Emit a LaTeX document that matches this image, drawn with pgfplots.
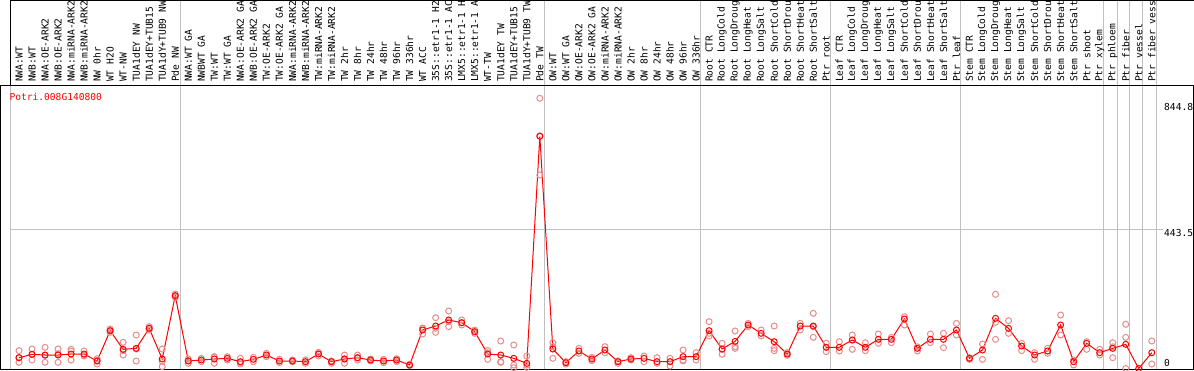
\documentclass[border=0pt]{standalone}
\usepackage{fontspec}
\setmainfont{DejaVu Sans Mono}
\usepackage{pgfplots}
\pgfplotsset{compat=1.18}
\definecolor{reppink}{RGB}{232,140,140}
\definecolor{sepgray}{RGB}{192,192,192}
\begin{document}
\fontsize{9.6pt}{11pt}\selectfont
\begin{tikzpicture}
\useasboundingbox (0pt,0pt) rectangle (1194pt,370pt);
\clip (0pt,0pt) rectangle (1194pt,370pt);
\fill[white] (0pt,0pt) rectangle (1194pt,370pt);
% group separators
\foreach \px in {10,180,544,700,830,960,1103,1117,1129,1142,1156}
  \draw[sepgray, line width=1pt] (\px pt,1pt) -- (\px pt,370pt);
% header frame
\draw[black, line width=1pt] (10pt,285pt) -- (10pt,369.5pt) -- (1193.5pt,369.5pt);
\begin{axis}[
  at={(1pt,1pt)}, anchor=south west,
  scale only axis, width=1192pt, height=284pt,
  xmin=-1.3825, xmax=90.169, ymin=-1.59, ymax=901.5,
  axis line style={line width=1pt},
  xtick={0,...,87},
  xticklabels={NWA:WT,NWB:WT,NWA:OE-ARK2,NWB:OE-ARK2,NWA:miRNA-ARK2,NWB:miRNA-ARK2,NW 0hr,WT H2O,WT-NW,TUA1dEY NW,TUA1dEY+TUB15,TUA1dY+TUB9 NW,Pde NW,
  NWA:WT GA,NWBWT GA,TW:WT,TW:WT GA,NWA:OE-ARK2 GA,NWB:OE-ARK2 GA,TW:OE-ARK2,TW:OE-ARK2 GA,NWA:miRNA-ARK2,NWB:miRNA-ARK2,TW:miRNA-ARK2,TW:miRNA-ARK2,TW 2hr,TW 8hr,TW 24hr,TW 48hr,TW 96hr,TW 336hr,WT ACC,35S::etr1-1 H2,35S::etr1-1 AC,LMX5::etr1-1 H,LMX5::etr1-1 A,WT-TW,TUA1dEY TW,TUA1dEY+TUB15,TUA1dY+TUB9 TW,Pde TW,
  OW:WT,OW:WT GA,OW:OE-ARK2,OW:OE-ARK2 GA,OW:miRNA-ARK2,OW:miRNA-ARK2,OW 2hr,OW 8hr,OW 24hr,OW 48hr,OW 96hr,OW 336hr,
  Root CTR,Root LongCold,Root LongDroug,Root LongHeat,Root LongSalt,Root ShortCold,Root ShortDrou,Root ShortHeat,Root ShortSalt,Ptr root,
  Leaf CTR,Leaf LongCold,Leaf LongDroug,Leaf LongHeat,Leaf LongSalt,Leaf ShortCold,Leaf ShortDrou,Leaf ShortHeat,Leaf ShortSalt,Ptr leaf,
  Stem CTR,Stem LongCold,Stem LongDroug,Stem LongHeat,Stem LongSalt,Stem ShortCold,Stem ShortDrou,Stem ShortHeat,Stem ShortSalt,Ptr shoot,Ptr xylem,
  Ptr phloem,Ptr fiber,Ptr vessel,Ptr fiber vess},
  xticklabel pos=upper,
  major tick length=0pt,
  xticklabel style={rotate=90, anchor=west, inner sep=0pt, font=\fontsize{9.6pt}{11pt}\selectfont},
  xticklabel shift=3pt,
  ytick=\empty,
  clip=false,
]
\draw[sepgray, line width=1pt] (axis cs:-0.69,443.5) -- (axis cs:87.87,443.5);
% replicates
\addplot[only marks, mark=o, mark size=3pt, reppink, mark options={line width=1pt}] table[row sep=\\] {
x y\\
0 56.7\\ 0 19.6\\ 0 34\\
1 62\\ 1 27\\ 1 45\\
2 67.3\\ 2 19.6\\ 2 42\\
3 62\\ 3 19.6\\ 3 47\\
4 61\\ 4 55\\ 4 27\\
5 55.6\\ 5 39.7\\ 5 43\\
6 31.2\\ 6 14.3\\ 6 26\\
7 125.6\\ 7 115\\ 7 120\\
8 83.2\\ 8 42.9\\ 8 57\\
9 106.5\\ 9 23.8\\ 9 62\\
10 133\\ 10 122.4\\ 10 128\\
11 62\\ 11 23\\ 11 6\\
12 236.9\\ 12 226.3\\ 12 231\\
13 30.2\\ 13 16.4\\ 13 25\\
14 32.3\\ 14 21.7\\
15 37.6\\ 15 16.4\\ 15 36\\
16 37.6\\ 16 27\\
17 32.3\\ 17 14.3\\ 17 19\\
18 35.5\\ 18 21.7\\
19 48.2\\ 19 37.6\\
20 29.1\\ 20 18.5\\
21 27\\ 21 21.7\\
22 27\\ 22 16.4\\
23 51.4\\ 23 39.7\\ 23 47\\
24 24\\ 24 16.4\\
25 42.9\\ 25 16.4\\ 25 31\\
26 42.9\\ 26 27\\ 26 33\\
27 30.2\\ 27 23.8\\
28 29.1\\ 28 18.5\\
29 31.2\\ 29 21.7\\
30 13.2\\ 30 9\\
31 127.7\\ 31 109.7\\ 31 129\\
32 161.6\\ 32 115\\ 32 128\\
33 182.8\\ 33 133\\ 33 148.9\\
34 154.2\\ 34 138.3\\ 34 145\\
35 122.4\\ 35 111.8\\ 35 117\\
36 50.3\\ 36 29.1\\ 36 57\\
37 87.4\\ 37 21.7\\ 37 19.6\\
38 74.7\\ 38 11.1\\ 38 2.6\\
39 39.7\\ 39 11.1\\ 39 3.7\\
40 859.2\\ 40 740\\ 40 615.3\\
41 82.1\\ 41 32.3\\ 41 69.4\\
42 21.7\\ 42 14.3\\
43 64.1\\ 43 48.2\\
44 35.5\\ 44 24.9\\
45 69.4\\ 45 50.3\\
46 24\\ 46 16.4\\
47 34.4\\ 47 27\\
48 39.7\\ 48 21.7\\
49 34.4\\ 49 16.4\\
50 32.3\\ 50 7.9\\
51 58.8\\ 51 27\\ 51 24\\
52 50.3\\ 52 27\\
53 148.9\\ 53 103.4\\ 53 112\\
54 80\\ 54 45\\ 54 61\\
55 119.2\\ 55 69.4\\ 55 64\\
56 143.6\\ 56 133\\
57 122.4\\ 57 103.4\\
58 135.1\\ 58 64.1\\ 58 56.7\\
59 50.3\\ 59 41.8\\
60 143.6\\ 60 122.4\\
61 175.4\\ 61 99.1\\ 61 133\\
62 80\\ 62 53.5\\
63 85.3\\ 63 55.6\\
64 106.5\\ 64 60.9\\ 64 90\\
65 82.1\\ 65 56.7\\
66 109.7\\ 66 80\\
67 82.1\\ 67 99\\
68 164.8\\ 68 138.3\\
69 55.6\\ 69 69\\
70 109.7\\ 70 82.1\\
71 111.8\\ 71 66.2\\
72 143.6\\ 72 106.5\\
73 34.4\\ 73 29.1\\
74 77.9\\ 74 29.1\\
75 235.8\\ 75 146.8\\ 75 92.7\\
76 152.1\\ 76 111.8\\
77 80\\ 77 56.7\\
78 50.3\\ 78 29.1\\
79 64.1\\ 79 48.2\\
80 170.1\\ 80 106.5\\
81 27\\ 81 11.1\\
82 85.3\\ 82 60.9\\
83 61\\ 83 42.9\\
84 82.1\\ 84 34.4\\ 84 69\\
85 140.4\\ 85 99.1\\ 85 0\\
87 87.4\\ 87 14.3\\
};
% means
\addplot[red, line width=1pt, mark=o, mark size=3pt, mark options={line width=1pt, solid}] table[row sep=\\] {
x y\\
0 34.4\\ 1 45\\ 2 42.9\\ 3 42.9\\ 4 46\\ 5 46\\ 6 23.8\\ 7 120.3\\ 8 60.9\\ 9 64.1\\
10 127.7\\ 11 30.2\\ 12 231.6\\ 13 23.8\\ 14 27\\ 15 30.2\\ 16 32.3\\ 17 21.7\\ 18 29.1\\ 19 42.9\\
20 23.8\\ 21 23.8\\ 22 21.7\\ 23 46\\ 24 21.7\\ 25 30.2\\ 26 34.4\\ 27 27\\ 28 23.8\\ 29 27\\
30 11.1\\ 31 122.4\\ 32 135.1\\ 33 154.2\\ 34 145.7\\ 35 117.1\\ 36 46\\ 37 42.9\\ 38 32.3\\ 39 16.4\\
40 738.4\\ 41 62\\ 42 18.5\\ 43 55.6\\ 44 30.2\\ 45 58.8\\ 46 21.7\\ 47 30.2\\ 48 32.3\\ 49 21.7\\
50 21.7\\ 51 37.6\\ 52 37.6\\ 53 120.3\\ 54 62\\ 55 86.4\\ 56 138.3\\ 57 111.8\\ 58 85.3\\ 59 46\\
60 135.1\\ 61 135.1\\ 62 67.3\\ 63 67.3\\ 64 90.6\\ 65 67.3\\ 66 92.7\\ 67 92.7\\ 68 157.4\\ 69 64.1\\
70 92.7\\ 71 92.7\\ 72 122.4\\ 73 32.3\\ 74 58.8\\ 75 159.5\\ 76 127.7\\ 77 71.5\\ 78 42.9\\ 79 55.6\\
80 138.3\\ 81 21.7\\ 82 80\\ 83 50.3\\ 84 64.1\\ 85 76.8\\ 86 0\\ 87 50.3\\
};
\end{axis}
\node[anchor=base west, inner sep=0pt, text=red] at (9.3pt,269.3pt) {Potri.008G140800};
\node[anchor=base west, inner sep=0pt] at (1164pt,259pt) {844.8};
\node[anchor=base west, inner sep=0pt] at (1164pt,134pt) {443.5};
\node[anchor=base west, inner sep=0pt] at (1164pt,4pt) {0};
\end{tikzpicture}
\end{document}
